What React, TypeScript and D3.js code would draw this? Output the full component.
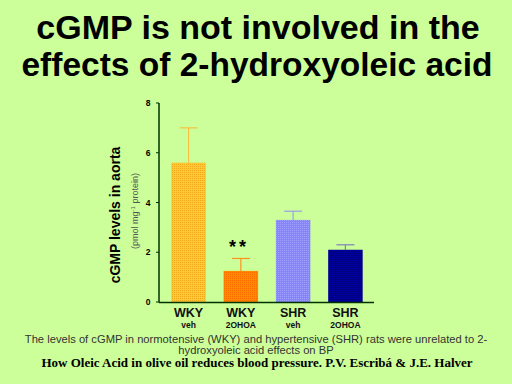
import React from "react";
import * as d3 from "d3";

const groups = ["WKY", "WKY", "SHR", "SHR"];
const treatments = ["veh", "2OHOA", "veh", "2OHOA"];
const means = [5.6, 1.25, 3.3, 2.1];
const errors = [1.4, 0.5, 0.35, 0.2];
const yTicks = [0, 2, 4, 6, 8];
const colorsA = ["#FFC836", "#FF8A00", "#8585F8", "#000080"];
const colorsB = ["#F0A818", "#FF6A00", "#A0A0FF", "#0000A0"];
const errColors = ["#F8C040", "#FF9020", "#9C9CF0", "#8080C0"];

export default function App() {
  const W = 512, H = 384;
  const x0 = 159, x1 = 374;
  const y = d3.scaleLinear().domain([0, 8]).range([302, 103]);
  const x = d3.scaleBand<number>().domain(d3.range(4)).range([x0 + 5, x1 - 4]).paddingInner(0.34).paddingOuter(0.14);
  const bw = x.bandwidth();
  return (
    <svg width={W} height={H} style={{ position: "absolute", left: 0, top: 0, background: "#CCFF99" }}>
      <defs>
        {colorsA.map((c, i) => (
          <pattern key={i} id={`p${i}`} width={2} height={2} patternUnits="userSpaceOnUse">
            <rect width={2} height={2} fill={c} />
            <rect width={1} height={1} fill={colorsB[i]} />
          </pattern>
        ))}
      </defs>
      <rect width={W} height={H} fill="#CCFF99" />
      <g fontFamily="Liberation Sans, Arial, sans-serif" fontWeight="bold" textAnchor="middle" fill="#000">
        <text x={258} y={39} fontSize={34}>cGMP is not involved in the</text>
        <text x={257} y={76} fontSize={33.5}>effects of 2-hydroxyoleic acid</text>
      </g>
      {means.map((m, i) => {
        const cx = (x(i) as number) + bw / 2;
        return (
          <g key={i}>
            <line x1={cx} x2={cx} y1={y(m)} y2={y(m + errors[i])} stroke={errColors[i]} strokeWidth={1.2} />
            <line x1={cx - 9} x2={cx + 9} y1={y(m + errors[i])} y2={y(m + errors[i])} stroke={errColors[i]} strokeWidth={1.2} />
            <rect x={x(i)} y={y(m)} width={bw} height={y(0) - y(m)} fill={`url(#p${i})`} />
          </g>
        );
      })}
      <line x1={x0} x2={x0} y1={y(8)} y2={y(0) + 0.5} stroke="#003300" strokeWidth={1.5} />
      <line x1={x0} x2={x1} y1={y(0) + 0.5} y2={y(0) + 0.5} stroke="#003300" strokeWidth={1.5} />
      {yTicks.map((t) => (
        <g key={t}>
          <line x1={x0 - 3} x2={x0} y1={y(t)} y2={y(t)} stroke="#003300" strokeWidth={1} />
          <text x={148} y={y(t) + 3} fontFamily="Liberation Sans, Arial, sans-serif" fontWeight="bold" fontSize={8.5} textAnchor="middle">{t}</text>
        </g>
      ))}
      {groups.map((g, i) => {
        const cx = (x(i) as number) + bw / 2;
        return (
          <g key={i} fontFamily="Liberation Sans, Arial, sans-serif" fontWeight="bold" textAnchor="middle" fill="#111">
            <text x={cx} y={317} fontSize={12.5}>{g}</text>
            <text x={cx} y={328} fontSize={8.5}>{treatments[i]}</text>
          </g>
        );
      })}
      <text x={239} y={253} fontFamily="Liberation Sans, Arial, sans-serif" fontWeight="bold" fontSize={18} textAnchor="middle" letterSpacing={3}>**</text>
      <text transform="translate(120,215) rotate(-90)" fontFamily="Liberation Sans, Arial, sans-serif" fontWeight="bold" fontSize={14} textAnchor="middle">cGMP  levels in aorta</text>
      <text transform="translate(138,211) rotate(-90)" fontFamily="Liberation Sans, Arial, sans-serif" fontSize={9} fill="#555" textAnchor="middle">
        (pmol mg<tspan dy={-3} fontSize={6}>-1</tspan><tspan dy={3}> protein)</tspan>
      </text>
      <g fontFamily="Liberation Sans, Arial, sans-serif" fontSize={11.2} fill="#333" textAnchor="middle">
        <text x={256} y={343}>The levels of cGMP in normotensive (WKY) and hypertensive (SHR) rats were unrelated to 2-</text>
        <text x={256} y={354}>hydroxyoleic acid effects on BP</text>
      </g>
      <text x={257} y={367} fontFamily="Liberation Serif, Times New Roman, serif" fontWeight="bold" fontSize={13} textAnchor="middle">How Oleic Acid in olive oil reduces blood pressure. P.V. Escribá &amp; J.E. Halver</text>
    </svg>
  );
}
